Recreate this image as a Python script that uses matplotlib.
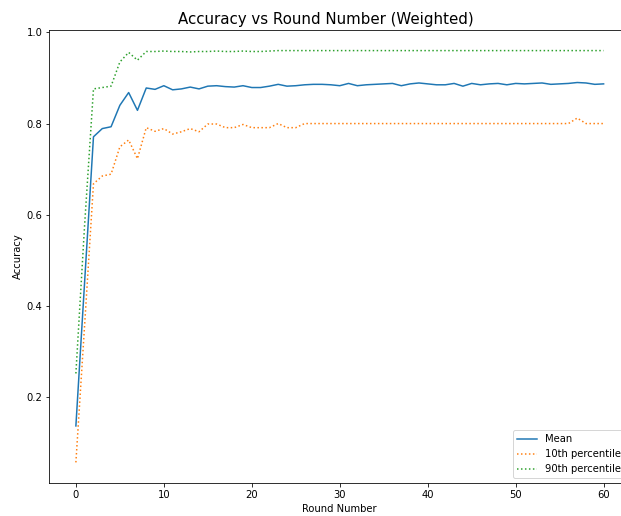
import matplotlib
matplotlib.use('Agg', force=True)
import matplotlib.pyplot as plt

# ---------- data ----------
rounds = list(range(61))

mean_acc = [0.137, 0.455, 0.771, 0.789, 0.793, 0.840, 0.868, 0.829, 0.878, 0.875,
            0.883, 0.874, 0.876, 0.880, 0.876, 0.882, 0.883, 0.881, 0.880, 0.883,
            0.879, 0.879, 0.882, 0.886, 0.882, 0.883, 0.885, 0.886, 0.886, 0.885,
            0.883, 0.888, 0.883, 0.885, 0.886, 0.887, 0.888, 0.883, 0.887, 0.889,
            0.887, 0.885, 0.885, 0.888, 0.882, 0.888, 0.885, 0.887, 0.888, 0.885,
            0.888, 0.887, 0.888, 0.889, 0.886, 0.887, 0.888, 0.890, 0.889, 0.886,
            0.887]

p10_acc = [0.057, 0.360, 0.668, 0.685, 0.689, 0.749, 0.764, 0.723, 0.791, 0.783,
           0.789, 0.777, 0.782, 0.789, 0.782, 0.799, 0.799, 0.791, 0.791, 0.798,
           0.791, 0.791, 0.791, 0.800, 0.791, 0.791, 0.800, 0.800, 0.800, 0.800,
           0.800, 0.800, 0.800, 0.800, 0.800, 0.800, 0.800, 0.800, 0.800, 0.800,
           0.800, 0.800, 0.800, 0.800, 0.800, 0.800, 0.800, 0.800, 0.800, 0.800,
           0.800, 0.800, 0.800, 0.800, 0.800, 0.800, 0.800, 0.812, 0.800, 0.800,
           0.800]

p90_acc = [0.252, 0.580, 0.876, 0.879, 0.882, 0.935, 0.956, 0.939, 0.958, 0.958,
           0.959, 0.958, 0.958, 0.957, 0.958, 0.958, 0.959, 0.958, 0.958, 0.959,
           0.958, 0.958, 0.959, 0.960, 0.960, 0.960, 0.960, 0.960, 0.960, 0.960,
           0.960, 0.960, 0.960, 0.960, 0.960, 0.960, 0.960, 0.960, 0.960, 0.960,
           0.960, 0.960, 0.960, 0.960, 0.960, 0.960, 0.960, 0.960, 0.960, 0.960,
           0.960, 0.960, 0.960, 0.960, 0.960, 0.960, 0.960, 0.960, 0.960, 0.960,
           0.960]

# ---------- figure ----------
fig = plt.figure(figsize=(621 / 72, 516 / 72), dpi=72)
# the reference is cropped on the right, so the axes run past the edge
ax = fig.add_axes([49.5 / 621, 33 / 516, 580.5 / 621, 453 / 516])

ax.plot(rounds, mean_acc, label='Mean')
ax.plot(rounds, p10_acc, linestyle=':', label='10th percentile')
ax.plot(rounds, p90_acc, linestyle=':', label='90th percentile')
ax.spines['right'].set_visible(False)  # lies past the cropped edge

ax.set_title('Accuracy vs Round Number (Weighted)', fontsize=15, x=0.476)
ax.set_xlabel('Round Number')
ax.set_ylabel('Accuracy')
ax.legend(loc='lower right')

fig.savefig('out.png', dpi=72)
